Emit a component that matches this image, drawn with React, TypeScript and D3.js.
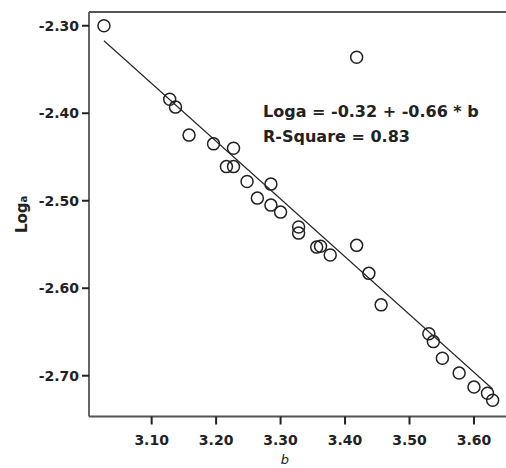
import React from "react"
import * as d3 from "d3"

const W = 506
const H = 468

// b values (x) and Loga values (y)
const bValues = [
  3.026, 3.128, 3.137, 3.158, 3.196, 3.227, 3.216, 3.227, 3.248, 3.264,
  3.285, 3.285, 3.300, 3.328, 3.328, 3.356, 3.362, 3.377, 3.418, 3.437,
  3.456, 3.530, 3.537, 3.551, 3.577, 3.600, 3.621, 3.629, 3.418,
]
const logaValues = [
  -2.300, -2.384, -2.393, -2.425, -2.435, -2.440, -2.461, -2.461, -2.478, -2.497,
  -2.481, -2.505, -2.513, -2.530, -2.537, -2.553, -2.552, -2.562, -2.551, -2.583,
  -2.619, -2.652, -2.661, -2.680, -2.697, -2.713, -2.720, -2.728, -2.336,
]

const xTicks = [3.1, 3.2, 3.3, 3.4, 3.5, 3.6]
const yTicks = [-2.3, -2.4, -2.5, -2.6, -2.7]

const INTERCEPT = -0.32
const SLOPE = -0.66

const FONT = "'DejaVu Sans', sans-serif"
const INK = "#222"

export default function App() {
  const left = 89
  const top = 12
  const bottom = 416.5
  const right = W

  const x = d3.scaleLinear().domain([3.0028, 3.6497]).range([left, right])
  const y = d3.scaleLinear().domain([-2.2843, -2.7466]).range([top, bottom])

  const points = bValues.map((b, i) => ({ b, v: logaValues[i] }))
  const [bMin, bMax] = d3.extent(bValues) as [number, number]
  const line = d3
    .line<number>()
    .x(b => x(b))
    .y(b => y(INTERCEPT + SLOPE * b))

  return (
    <svg
      width={W}
      height={H}
      style={{ position: "absolute", left: 0, top: 0, background: "#fff" }}
    >
      {/* frame */}
      <line x1={left} x2={right} y1={top} y2={top} stroke="#555" strokeWidth={1.8} />
      <line x1={left} x2={left} y1={top} y2={bottom} stroke="#555" strokeWidth={1.8} />
      <line x1={left} x2={right} y1={bottom} y2={bottom} stroke="#555" strokeWidth={1.8} />

      {/* y axis */}
      {yTicks.map(t => (
        <g key={t}>
          <line x1={left - 7} x2={left} y1={y(t)} y2={y(t)} stroke={INK} strokeWidth={2} />
          <text
            x={left - 10}
            y={y(t)}
            textAnchor="end"
            dominantBaseline="central"
            fontFamily={FONT}
            fontWeight="bold"
            fontSize={14}
            fill={INK}
          >
            {t.toFixed(2)}
          </text>
        </g>
      ))}

      {/* x axis */}
      {xTicks.map(t => (
        <g key={t}>
          <line x1={x(t)} x2={x(t)} y1={bottom} y2={bottom + 8} stroke={INK} strokeWidth={2} />
          <text
            x={x(t)}
            y={445}
            textAnchor="middle"
            fontFamily={FONT}
            fontWeight="bold"
            fontSize={14}
            fill={INK}
          >
            {t.toFixed(2)}
          </text>
        </g>
      ))}

      {/* axis titles */}
      <text
        transform="translate(27, 233) rotate(-90)"
        fontFamily={FONT}
        fontWeight="bold"
        fontSize={15}
        fill={INK}
      >
        Log<tspan fontSize={10}>a</tspan>
      </text>
      <text
        x={285}
        y={464}
        textAnchor="middle"
        fontFamily={FONT}
        fontStyle="italic"
        fontSize={13}
        fill={INK}
      >
        b
      </text>

      {/* fit line */}
      <path d={line([bMin, bMax]) ?? ""} fill="none" stroke={INK} strokeWidth={1.1} />

      {/* points */}
      {points.map((p, i) => (
        <circle
          key={i}
          cx={x(p.b)}
          cy={y(p.v)}
          r={6}
          fill="none"
          stroke={INK}
          strokeWidth={1.5}
        />
      ))}

      {/* annotation */}
      <text x={263} y={116.5} fontFamily={FONT} fontWeight="bold" fontSize={16} fill={INK}>
        Loga = -0.32 + -0.66 * b
      </text>
      <text x={263} y={142} fontFamily={FONT} fontWeight="bold" fontSize={16} fill={INK}>
        R-Square = 0.83
      </text>
    </svg>
  )
}
